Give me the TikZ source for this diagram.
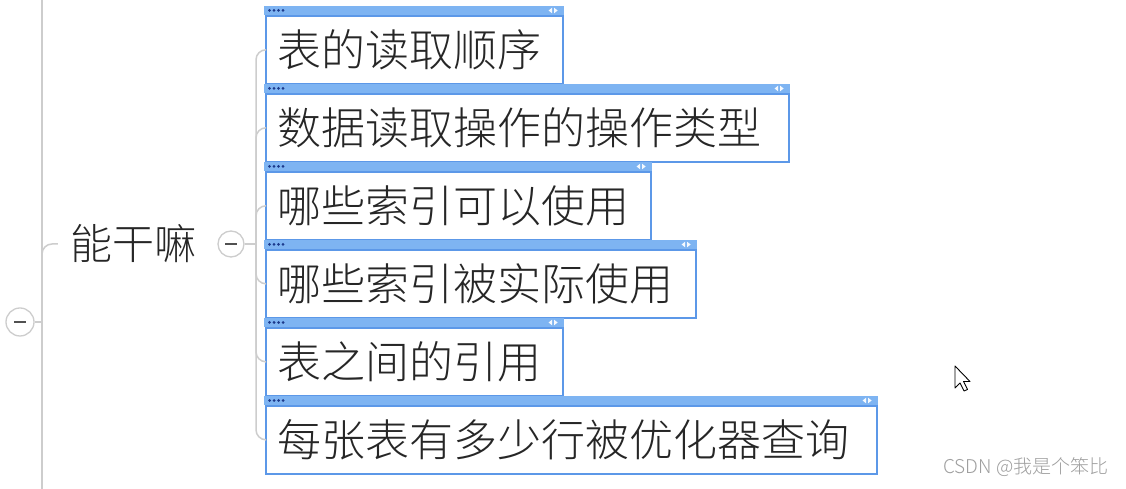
\documentclass[tikz,border=0pt]{standalone}
\usepackage{fontspec}
\newfontfamily\cjk{Noto Sans CJK SC}[UprightFont={* Light}]
\usetikzlibrary{positioning}
\definecolor{edgeblue}{RGB}{92,152,232}
\definecolor{barblue}{RGB}{126,180,242}
\definecolor{dotblue}{RGB}{28,58,140}
\definecolor{linegray}{RGB}{205,205,205}
\definecolor{inkgray}{RGB}{38,38,38}
\tikzset{
	conn/.style={draw=linegray, line width=1.5pt},
	toggle/.style={circle, draw=linegray, fill=white, line width=1.3pt, inner sep=0pt},
	minus/.style={draw=inkgray!80, line width=1.3pt},
	topic/.style={text=inkgray, inner xsep=12pt, font=\cjk\fontsize{42}{50}\selectfont},
	item/.style={draw=edgeblue, line width=1.6pt, fill=white, anchor=north west, inner xsep=12pt,
		minimum height=68pt, align=left, text=inkgray, font=\cjk\fontsize{44}{52}\selectfont},
}
\begin{document}
\begin{tikzpicture}[x=1pt, y=1pt]
	% Page frame:
	\useasboundingbox[fill=white] (0, 0) rectangle (1126, 489);
	% Spine and root toggle:
	\coordinate (spineTop) at (42, 489);
	\coordinate (spineBot) at (42, 0);
	\draw[conn] (spineTop) -- (spineBot);
	\node[toggle, minimum size=28pt] (root) at (20, 167) {};
	\draw[minus] ([xshift=-6pt]root.center) -- ([xshift=6pt]root.center);
	\draw[conn] (root.east) -- (root.east -| spineTop);
	% Topic and its toggle:
	\node[topic] (what) at (133, 245) {能干嘛};
	\draw[conn, rounded corners=10pt] (42, 219) |- (what.west);
	\node[toggle, minimum size=26pt] (tog) at (231, 245) {};
	\draw[minus] ([xshift=-6pt]tog.center) -- ([xshift=6pt]tog.center);
	\coordinate (fork) at (256, 245);
	\draw[conn] (tog.east) -- (fork);
	% Child boxes:
	\node[item, text width=273pt] (order) at (265, 474) {表的读取顺序};
	\node[item, text width=499pt] (optype) at (265, 396) {数据读取操作的操作类型};
	\node[item, text width=361pt] (usable) at (265, 318) {哪些索引可以使用};
	\node[item, text width=406pt] (used) at (265, 240) {哪些索引被实际使用};
	\node[item, text width=273pt] (refs) at (265, 162) {表之间的引用};
	\node[item, text width=587pt] (rows) at (265, 84) {每张表有多少行被优化器查询};
	\foreach \c in {order, optype, usable, used, refs, rows} {
		\draw[conn, rounded corners=10pt] (fork) |- (\c.west);
		% title bar
		\fill[barblue] ([xshift=-0.8pt]\c.north west) rectangle ([xshift=0.8pt, yshift=9pt]\c.north east);
		\foreach \k in {0,...,3}
			\fill[dotblue] ([xshift={(\k+1)*4.5pt}, yshift=4.5pt]\c.north west) circle (1.5pt);
		\fill[white!92!barblue] ([xshift=-15pt, yshift=4.5pt]\c.north east) -- ++(3.5pt, 2.8pt) -- ++(0, -5.6pt) -- cycle;
		\fill[white!92!barblue] ([xshift=-6pt, yshift=4.5pt]\c.north east) -- ++(-3.5pt, 2.8pt) -- ++(0, -5.6pt) -- cycle;
	}
	% Mouse pointer:
	\draw[fill=white, line width=0.9pt, line join=round] (955, 123) -- (955, 101) -- (960, 106) -- (964, 98) -- (967.5, 99.5) -- (963.5, 107.5) -- (970, 107.5) -- cycle;
	% Watermark:
	\node[text=black!38, font=\cjk\fontsize{19}{23}\selectfont] (mark) at (1026, 22) {CSDN @我是个笨比};
\end{tikzpicture}
\end{document}
